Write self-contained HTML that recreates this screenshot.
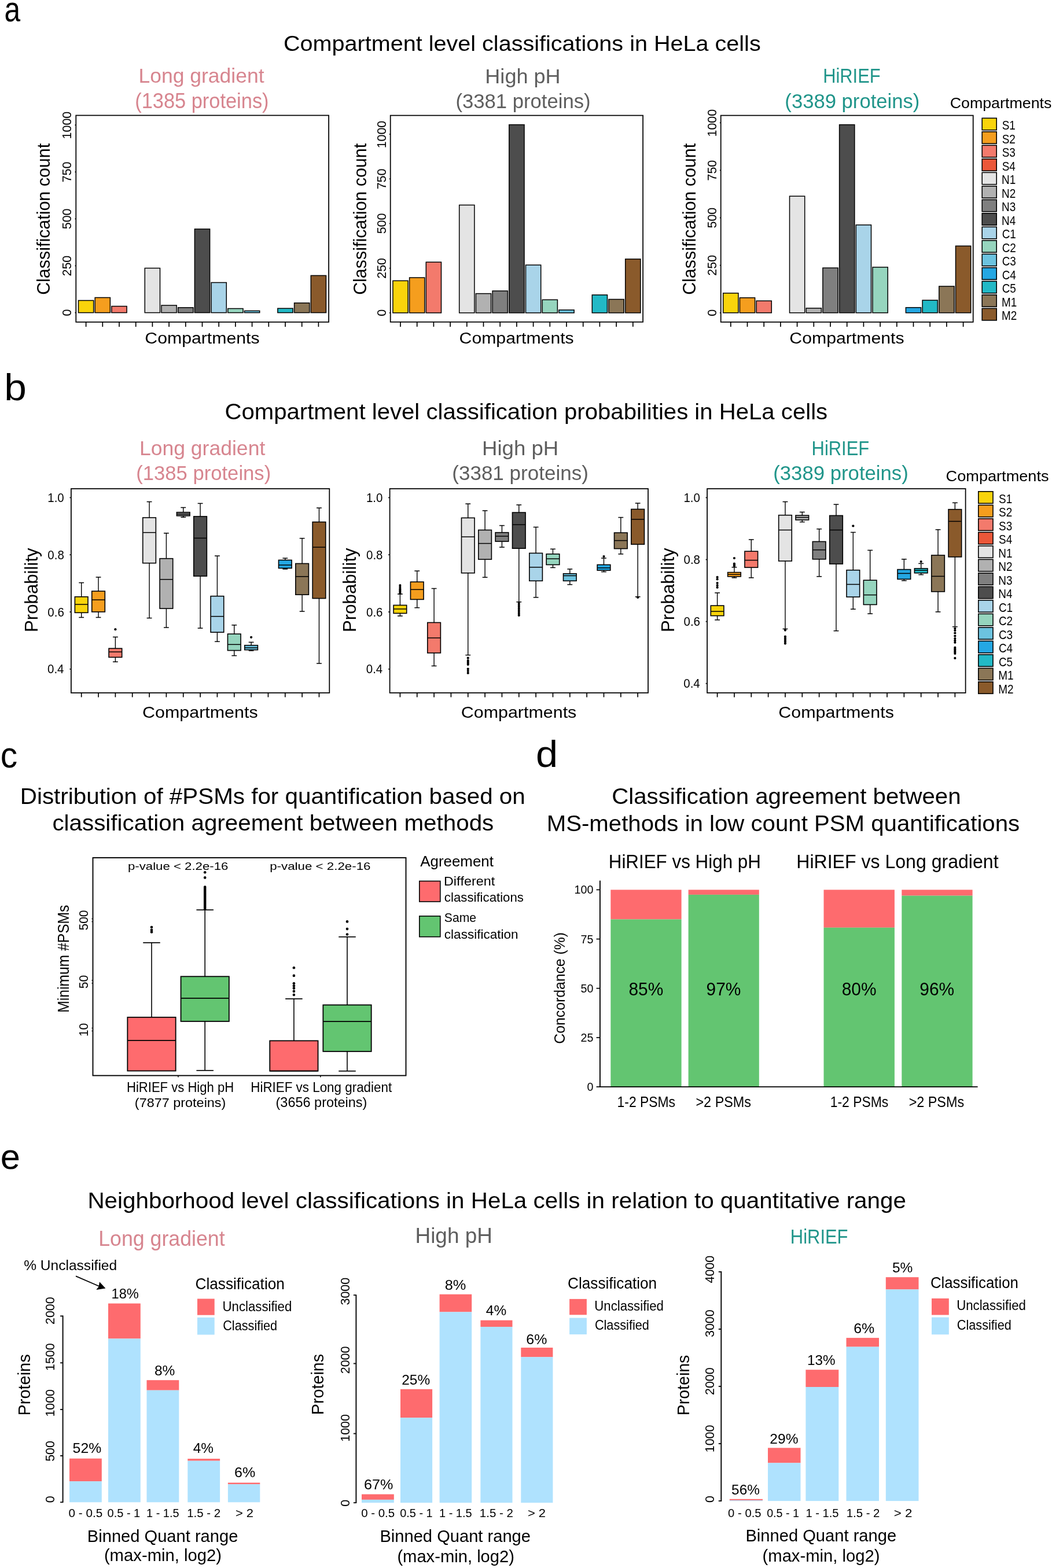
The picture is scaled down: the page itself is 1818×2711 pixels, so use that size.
<!DOCTYPE html>
<html><head><meta charset="utf-8"><title>Figure</title>
<style>html,body{margin:0;padding:0;background:#fff;} svg{display:block;} text{font-kerning:none;}</style>
</head><body>
<svg width="1818" height="2711" viewBox="0 0 1818 2711" font-family="'Liberation Sans', Arial, sans-serif" style="font-kerning:none">
<rect width="1818" height="2711" fill="#fff"/>
<text transform="translate(7.59,37.3) scale(0.8072,1)" font-size="61.5" fill="#000">a</text>
<text transform="translate(7.23,692) scale(1.0608,1)" font-size="65.4" fill="#000">b</text>
<text transform="translate(0.8,1326.8) scale(0.9471,1)" font-size="62.2" fill="#000">c</text>
<text transform="translate(926.12,1326.1) scale(1.0472,1)" font-size="65.4" fill="#000">d</text>
<text transform="translate(0.69,2021.4) scale(0.9915,1)" font-size="61.9" fill="#000">e</text>
<text transform="translate(489.99,87.7) scale(1.0472,1)" font-size="37.8" fill="#000">Compartment level classifications in HeLa cells</text>
<text transform="translate(239.49,143.4) scale(0.9859,1)" font-size="36" fill="#D7858F">Long gradient</text>
<text transform="translate(233.17,187) scale(0.9559,1)" font-size="36" fill="#D7858F">(1385 proteins)</text>
<text transform="translate(838.34,144) scale(1.0018,1)" font-size="36" fill="#5E5E5E">High pH</text>
<text transform="translate(787.45,187.3) scale(0.9631,1)" font-size="36" fill="#5E5E5E">(3381 proteins)</text>
<text transform="translate(1422.17,142.9) scale(0.8575,1)" font-size="36" fill="#20958A">HiRIEF</text>
<text transform="translate(1356.35,187) scale(0.9627,1)" font-size="36" fill="#20958A">(3389 proteins)</text>
<rect x="135.5" y="519.5" width="26.2" height="21.1" fill="#F9D40B" stroke="#000" stroke-width="1.5"/>
<rect x="164.2" y="514.5" width="26.2" height="26.1" fill="#F59E1E" stroke="#000" stroke-width="1.5"/>
<rect x="192.9" y="529.5" width="26.2" height="11.1" fill="#F37A6C" stroke="#000" stroke-width="1.5"/>
<rect x="250.3" y="463.6" width="26.2" height="77" fill="#E4E4E4" stroke="#000" stroke-width="1.5"/>
<rect x="279" y="527.9" width="26.2" height="12.7" fill="#B1B1B1" stroke="#000" stroke-width="1.5"/>
<rect x="307.7" y="531.8" width="26.2" height="8.8" fill="#7F7F7F" stroke="#000" stroke-width="1.5"/>
<rect x="336.4" y="396" width="26.2" height="144.6" fill="#4D4D4D" stroke="#000" stroke-width="1.5"/>
<rect x="365.1" y="488.5" width="26.2" height="52.1" fill="#A9D4E9" stroke="#000" stroke-width="1.5"/>
<rect x="393.8" y="533.5" width="26.2" height="7.1" fill="#96D5BE" stroke="#000" stroke-width="1.5"/>
<rect x="422.5" y="537.4" width="26.2" height="3.2" fill="#6CC3DF" stroke="#000" stroke-width="1.5"/>
<rect x="479.9" y="533.2" width="26.2" height="7.4" fill="#22B9C6" stroke="#000" stroke-width="1.5"/>
<rect x="508.6" y="523.8" width="26.2" height="16.8" fill="#8B7657" stroke="#000" stroke-width="1.5"/>
<rect x="537.3" y="476.4" width="26.2" height="64.2" fill="#8A5A2B" stroke="#000" stroke-width="1.5"/>
<rect x="131.3" y="199.5" width="436.8" height="357.3" fill="none" stroke="#000" stroke-width="1.75"/>
<line x1="148.6" y1="556.8" x2="148.6" y2="565" stroke="#000" stroke-width="1.7"/>
<line x1="177.3" y1="556.8" x2="177.3" y2="565" stroke="#000" stroke-width="1.7"/>
<line x1="206" y1="556.8" x2="206" y2="565" stroke="#000" stroke-width="1.7"/>
<line x1="234.7" y1="556.8" x2="234.7" y2="565" stroke="#000" stroke-width="1.7"/>
<line x1="263.4" y1="556.8" x2="263.4" y2="565" stroke="#000" stroke-width="1.7"/>
<line x1="292.1" y1="556.8" x2="292.1" y2="565" stroke="#000" stroke-width="1.7"/>
<line x1="320.8" y1="556.8" x2="320.8" y2="565" stroke="#000" stroke-width="1.7"/>
<line x1="349.5" y1="556.8" x2="349.5" y2="565" stroke="#000" stroke-width="1.7"/>
<line x1="378.2" y1="556.8" x2="378.2" y2="565" stroke="#000" stroke-width="1.7"/>
<line x1="406.9" y1="556.8" x2="406.9" y2="565" stroke="#000" stroke-width="1.7"/>
<line x1="435.6" y1="556.8" x2="435.6" y2="565" stroke="#000" stroke-width="1.7"/>
<line x1="464.3" y1="556.8" x2="464.3" y2="565" stroke="#000" stroke-width="1.7"/>
<line x1="493" y1="556.8" x2="493" y2="565" stroke="#000" stroke-width="1.7"/>
<line x1="521.7" y1="556.8" x2="521.7" y2="565" stroke="#000" stroke-width="1.7"/>
<line x1="550.4" y1="556.8" x2="550.4" y2="565" stroke="#000" stroke-width="1.7"/>
<line x1="129.5" y1="540.6" x2="131.3" y2="540.6" stroke="#000" stroke-width="1.6"/>
<text transform="translate(123.1,546.55) rotate(-90) scale(0.9300,1)" font-size="23" fill="#000">0</text>
<line x1="129.5" y1="459.5" x2="131.3" y2="459.5" stroke="#000" stroke-width="1.6"/>
<text transform="translate(123.1,477.46) rotate(-90) scale(0.9300,1)" font-size="23" fill="#000">250</text>
<line x1="129.5" y1="378.4" x2="131.3" y2="378.4" stroke="#000" stroke-width="1.6"/>
<text transform="translate(123.1,396.25) rotate(-90) scale(0.9300,1)" font-size="23" fill="#000">500</text>
<line x1="129.5" y1="297.3" x2="131.3" y2="297.3" stroke="#000" stroke-width="1.6"/>
<text transform="translate(123.1,315.27) rotate(-90) scale(0.9300,1)" font-size="23" fill="#000">750</text>
<line x1="129.5" y1="216.2" x2="131.3" y2="216.2" stroke="#000" stroke-width="1.6"/>
<text transform="translate(123.1,240.39) rotate(-90) scale(0.9300,1)" font-size="23" fill="#000">1000</text>
<text transform="translate(85.8,509.84) rotate(-90) scale(0.9750,1)" font-size="31.2" fill="#000">Classification count</text>
<text transform="translate(250.36,593.9) scale(1.0719,1)" font-size="28.2" fill="#000">Compartments</text>
<rect x="678.9" y="485.4" width="26.2" height="55.5" fill="#F9D40B" stroke="#000" stroke-width="1.5"/>
<rect x="707.6" y="480" width="26.2" height="60.9" fill="#F59E1E" stroke="#000" stroke-width="1.5"/>
<rect x="736.3" y="453.2" width="26.2" height="87.7" fill="#F37A6C" stroke="#000" stroke-width="1.5"/>
<rect x="793.7" y="354.5" width="26.2" height="186.4" fill="#E4E4E4" stroke="#000" stroke-width="1.5"/>
<rect x="822.4" y="507.6" width="26.2" height="33.3" fill="#B1B1B1" stroke="#000" stroke-width="1.5"/>
<rect x="851.1" y="503" width="26.2" height="37.9" fill="#7F7F7F" stroke="#000" stroke-width="1.5"/>
<rect x="879.8" y="215.6" width="26.2" height="325.3" fill="#4D4D4D" stroke="#000" stroke-width="1.5"/>
<rect x="908.5" y="458.2" width="26.2" height="82.7" fill="#A9D4E9" stroke="#000" stroke-width="1.5"/>
<rect x="937.2" y="518.3" width="26.2" height="22.6" fill="#96D5BE" stroke="#000" stroke-width="1.5"/>
<rect x="965.9" y="535.9" width="26.2" height="5" fill="#6CC3DF" stroke="#000" stroke-width="1.5"/>
<rect x="1023.3" y="509.9" width="26.2" height="31" fill="#22B9C6" stroke="#000" stroke-width="1.5"/>
<rect x="1052" y="517.5" width="26.2" height="23.4" fill="#8B7657" stroke="#000" stroke-width="1.5"/>
<rect x="1080.7" y="447.9" width="26.2" height="93" fill="#8A5A2B" stroke="#000" stroke-width="1.5"/>
<rect x="674.7" y="199.6" width="436.4" height="357.1" fill="none" stroke="#000" stroke-width="1.75"/>
<line x1="692" y1="556.7" x2="692" y2="564.9" stroke="#000" stroke-width="1.7"/>
<line x1="720.7" y1="556.7" x2="720.7" y2="564.9" stroke="#000" stroke-width="1.7"/>
<line x1="749.4" y1="556.7" x2="749.4" y2="564.9" stroke="#000" stroke-width="1.7"/>
<line x1="778.1" y1="556.7" x2="778.1" y2="564.9" stroke="#000" stroke-width="1.7"/>
<line x1="806.8" y1="556.7" x2="806.8" y2="564.9" stroke="#000" stroke-width="1.7"/>
<line x1="835.5" y1="556.7" x2="835.5" y2="564.9" stroke="#000" stroke-width="1.7"/>
<line x1="864.2" y1="556.7" x2="864.2" y2="564.9" stroke="#000" stroke-width="1.7"/>
<line x1="892.9" y1="556.7" x2="892.9" y2="564.9" stroke="#000" stroke-width="1.7"/>
<line x1="921.6" y1="556.7" x2="921.6" y2="564.9" stroke="#000" stroke-width="1.7"/>
<line x1="950.3" y1="556.7" x2="950.3" y2="564.9" stroke="#000" stroke-width="1.7"/>
<line x1="979" y1="556.7" x2="979" y2="564.9" stroke="#000" stroke-width="1.7"/>
<line x1="1007.7" y1="556.7" x2="1007.7" y2="564.9" stroke="#000" stroke-width="1.7"/>
<line x1="1036.4" y1="556.7" x2="1036.4" y2="564.9" stroke="#000" stroke-width="1.7"/>
<line x1="1065.1" y1="556.7" x2="1065.1" y2="564.9" stroke="#000" stroke-width="1.7"/>
<line x1="1093.8" y1="556.7" x2="1093.8" y2="564.9" stroke="#000" stroke-width="1.7"/>
<line x1="672.9" y1="540.9" x2="674.7" y2="540.9" stroke="#000" stroke-width="1.6"/>
<text transform="translate(666.5,546.85) rotate(-90) scale(0.9300,1)" font-size="23" fill="#000">0</text>
<line x1="672.9" y1="463.7" x2="674.7" y2="463.7" stroke="#000" stroke-width="1.6"/>
<text transform="translate(666.5,481.66) rotate(-90) scale(0.9300,1)" font-size="23" fill="#000">250</text>
<line x1="672.9" y1="386.5" x2="674.7" y2="386.5" stroke="#000" stroke-width="1.6"/>
<text transform="translate(666.5,404.35) rotate(-90) scale(0.9300,1)" font-size="23" fill="#000">500</text>
<line x1="672.9" y1="309.3" x2="674.7" y2="309.3" stroke="#000" stroke-width="1.6"/>
<text transform="translate(666.5,327.27) rotate(-90) scale(0.9300,1)" font-size="23" fill="#000">750</text>
<line x1="672.9" y1="232.1" x2="674.7" y2="232.1" stroke="#000" stroke-width="1.6"/>
<text transform="translate(666.5,256.29) rotate(-90) scale(0.9300,1)" font-size="23" fill="#000">1000</text>
<text transform="translate(633.1,509.84) rotate(-90) scale(0.9750,1)" font-size="31.2" fill="#000">Classification count</text>
<text transform="translate(793.56,593.9) scale(1.0719,1)" font-size="28.2" fill="#000">Compartments</text>
<rect x="1249.7" y="506.8" width="26.2" height="34" fill="#F9D40B" stroke="#000" stroke-width="1.5"/>
<rect x="1278.4" y="514.8" width="26.2" height="26" fill="#F59E1E" stroke="#000" stroke-width="1.5"/>
<rect x="1307.1" y="520.2" width="26.2" height="20.6" fill="#F37A6C" stroke="#000" stroke-width="1.5"/>
<rect x="1364.5" y="339.2" width="26.2" height="201.6" fill="#E4E4E4" stroke="#000" stroke-width="1.5"/>
<rect x="1393.2" y="532.8" width="26.2" height="8" fill="#B1B1B1" stroke="#000" stroke-width="1.5"/>
<rect x="1421.9" y="463.2" width="26.2" height="77.6" fill="#7F7F7F" stroke="#000" stroke-width="1.5"/>
<rect x="1450.6" y="215.6" width="26.2" height="325.2" fill="#4D4D4D" stroke="#000" stroke-width="1.5"/>
<rect x="1479.3" y="388.9" width="26.2" height="151.9" fill="#A9D4E9" stroke="#000" stroke-width="1.5"/>
<rect x="1508" y="462" width="26.2" height="78.8" fill="#96D5BE" stroke="#000" stroke-width="1.5"/>
<rect x="1565.4" y="531.7" width="26.2" height="9.1" fill="#24A7E3" stroke="#000" stroke-width="1.5"/>
<rect x="1594.1" y="519.1" width="26.2" height="21.7" fill="#22B9C6" stroke="#000" stroke-width="1.5"/>
<rect x="1622.8" y="495" width="26.2" height="45.8" fill="#8B7657" stroke="#000" stroke-width="1.5"/>
<rect x="1651.5" y="425.3" width="26.2" height="115.5" fill="#8A5A2B" stroke="#000" stroke-width="1.5"/>
<rect x="1245.7" y="199.6" width="436" height="357.2" fill="none" stroke="#000" stroke-width="1.75"/>
<line x1="1262.8" y1="556.8" x2="1262.8" y2="565" stroke="#000" stroke-width="1.7"/>
<line x1="1291.5" y1="556.8" x2="1291.5" y2="565" stroke="#000" stroke-width="1.7"/>
<line x1="1320.2" y1="556.8" x2="1320.2" y2="565" stroke="#000" stroke-width="1.7"/>
<line x1="1348.9" y1="556.8" x2="1348.9" y2="565" stroke="#000" stroke-width="1.7"/>
<line x1="1377.6" y1="556.8" x2="1377.6" y2="565" stroke="#000" stroke-width="1.7"/>
<line x1="1406.3" y1="556.8" x2="1406.3" y2="565" stroke="#000" stroke-width="1.7"/>
<line x1="1435" y1="556.8" x2="1435" y2="565" stroke="#000" stroke-width="1.7"/>
<line x1="1463.7" y1="556.8" x2="1463.7" y2="565" stroke="#000" stroke-width="1.7"/>
<line x1="1492.4" y1="556.8" x2="1492.4" y2="565" stroke="#000" stroke-width="1.7"/>
<line x1="1521.1" y1="556.8" x2="1521.1" y2="565" stroke="#000" stroke-width="1.7"/>
<line x1="1549.8" y1="556.8" x2="1549.8" y2="565" stroke="#000" stroke-width="1.7"/>
<line x1="1578.5" y1="556.8" x2="1578.5" y2="565" stroke="#000" stroke-width="1.7"/>
<line x1="1607.2" y1="556.8" x2="1607.2" y2="565" stroke="#000" stroke-width="1.7"/>
<line x1="1635.9" y1="556.8" x2="1635.9" y2="565" stroke="#000" stroke-width="1.7"/>
<line x1="1664.6" y1="556.8" x2="1664.6" y2="565" stroke="#000" stroke-width="1.7"/>
<line x1="1243.9" y1="540.8" x2="1245.7" y2="540.8" stroke="#000" stroke-width="1.6"/>
<text transform="translate(1237.5,546.75) rotate(-90) scale(0.9300,1)" font-size="23" fill="#000">0</text>
<line x1="1243.9" y1="458.67" x2="1245.7" y2="458.67" stroke="#000" stroke-width="1.6"/>
<text transform="translate(1237.5,476.64) rotate(-90) scale(0.9300,1)" font-size="23" fill="#000">250</text>
<line x1="1243.9" y1="376.55" x2="1245.7" y2="376.55" stroke="#000" stroke-width="1.6"/>
<text transform="translate(1237.5,394.4) rotate(-90) scale(0.9300,1)" font-size="23" fill="#000">500</text>
<line x1="1243.9" y1="294.42" x2="1245.7" y2="294.42" stroke="#000" stroke-width="1.6"/>
<text transform="translate(1237.5,312.4) rotate(-90) scale(0.9300,1)" font-size="23" fill="#000">750</text>
<line x1="1243.9" y1="212.3" x2="1245.7" y2="212.3" stroke="#000" stroke-width="1.6"/>
<text transform="translate(1237.5,236.49) rotate(-90) scale(0.9300,1)" font-size="23" fill="#000">1000</text>
<text transform="translate(1202.1,509.84) rotate(-90) scale(0.9750,1)" font-size="31.2" fill="#000">Classification count</text>
<text transform="translate(1364.36,593.9) scale(1.0719,1)" font-size="28.2" fill="#000">Compartments</text>
<text transform="translate(1641.64,187.3) scale(1.0393,1)" font-size="25.8" fill="#000">Compartments</text>
<rect x="1697.2" y="204.3" width="25" height="20.5" fill="#F9D40B" stroke="#000" stroke-width="1.6"/>
<text transform="translate(1731.74,224.2) scale(0.8600,1)" font-size="22" fill="#000">S1</text>
<rect x="1697.2" y="227.8" width="25" height="20.5" fill="#F59E1E" stroke="#000" stroke-width="1.6"/>
<text transform="translate(1731.74,247.7) scale(0.8600,1)" font-size="22" fill="#000">S2</text>
<rect x="1697.2" y="251.3" width="25" height="20.5" fill="#F37A6C" stroke="#000" stroke-width="1.6"/>
<text transform="translate(1731.74,271.2) scale(0.8600,1)" font-size="22" fill="#000">S3</text>
<rect x="1697.2" y="274.8" width="25" height="20.5" fill="#EB5739" stroke="#000" stroke-width="1.6"/>
<text transform="translate(1731.74,294.7) scale(0.8600,1)" font-size="22" fill="#000">S4</text>
<rect x="1697.2" y="298.3" width="25" height="20.5" fill="#E4E4E4" stroke="#000" stroke-width="1.6"/>
<text transform="translate(1731.05,318.2) scale(0.8600,1)" font-size="22" fill="#000">N1</text>
<rect x="1697.2" y="321.8" width="25" height="20.5" fill="#B1B1B1" stroke="#000" stroke-width="1.6"/>
<text transform="translate(1731.05,341.7) scale(0.8600,1)" font-size="22" fill="#000">N2</text>
<rect x="1697.2" y="345.3" width="25" height="20.5" fill="#7F7F7F" stroke="#000" stroke-width="1.6"/>
<text transform="translate(1731.05,365.2) scale(0.8600,1)" font-size="22" fill="#000">N3</text>
<rect x="1697.2" y="368.8" width="25" height="20.5" fill="#4D4D4D" stroke="#000" stroke-width="1.6"/>
<text transform="translate(1731.05,388.7) scale(0.8600,1)" font-size="22" fill="#000">N4</text>
<rect x="1697.2" y="392.3" width="25" height="20.5" fill="#A9D4E9" stroke="#000" stroke-width="1.6"/>
<text transform="translate(1731.64,412.2) scale(0.8600,1)" font-size="22" fill="#000">C1</text>
<rect x="1697.2" y="415.8" width="25" height="20.5" fill="#96D5BE" stroke="#000" stroke-width="1.6"/>
<text transform="translate(1731.64,435.7) scale(0.8600,1)" font-size="22" fill="#000">C2</text>
<rect x="1697.2" y="439.3" width="25" height="20.5" fill="#6CC3DF" stroke="#000" stroke-width="1.6"/>
<text transform="translate(1731.64,459.2) scale(0.8600,1)" font-size="22" fill="#000">C3</text>
<rect x="1697.2" y="462.8" width="25" height="20.5" fill="#24A7E3" stroke="#000" stroke-width="1.6"/>
<text transform="translate(1731.64,482.7) scale(0.8600,1)" font-size="22" fill="#000">C4</text>
<rect x="1697.2" y="486.3" width="25" height="20.5" fill="#22B9C6" stroke="#000" stroke-width="1.6"/>
<text transform="translate(1731.64,506.2) scale(0.8600,1)" font-size="22" fill="#000">C5</text>
<rect x="1697.2" y="509.8" width="25" height="20.5" fill="#8B7657" stroke="#000" stroke-width="1.6"/>
<text transform="translate(1731.05,529.7) scale(0.8600,1)" font-size="22" fill="#000">M1</text>
<rect x="1697.2" y="533.3" width="25" height="20.5" fill="#8A5A2B" stroke="#000" stroke-width="1.6"/>
<text transform="translate(1731.05,553.2) scale(0.8600,1)" font-size="22" fill="#000">M2</text>
<text transform="translate(388.46,724.9) scale(1.0562,1)" font-size="38" fill="#000">Compartment level classification probabilities in HeLa cells</text>
<text transform="translate(240.88,786.5) scale(0.9877,1)" font-size="36" fill="#D7858F">Long gradient</text>
<text transform="translate(235.15,830.2) scale(0.9627,1)" font-size="36" fill="#D7858F">(1385 proteins)</text>
<text transform="translate(833,787) scale(1.0171,1)" font-size="36" fill="#5E5E5E">High pH</text>
<text transform="translate(781.23,829.8) scale(0.9740,1)" font-size="36" fill="#5E5E5E">(3381 proteins)</text>
<text transform="translate(1402.56,786.7) scale(0.8593,1)" font-size="36" fill="#20958A">HiRIEF</text>
<text transform="translate(1336.25,829.9) scale(0.9648,1)" font-size="36" fill="#20958A">(3389 proteins)</text>
<line x1="140.7" y1="1007.5" x2="140.7" y2="1031.8" stroke="#000" stroke-width="1.4"/>
<line x1="140.7" y1="1059.3" x2="140.7" y2="1067.5" stroke="#000" stroke-width="1.4"/>
<line x1="136.3" y1="1007.5" x2="145.1" y2="1007.5" stroke="#000" stroke-width="1.5"/>
<line x1="136.3" y1="1067.5" x2="145.1" y2="1067.5" stroke="#000" stroke-width="1.5"/>
<rect x="129.4" y="1031.8" width="22.6" height="27.5" fill="#F9D40B" stroke="#000" stroke-width="1.6"/>
<line x1="129.4" y1="1045" x2="152" y2="1045" stroke="#000" stroke-width="1.5"/>
<line x1="170.04" y1="997.9" x2="170.04" y2="1022.1" stroke="#000" stroke-width="1.4"/>
<line x1="170.04" y1="1057.9" x2="170.04" y2="1067.5" stroke="#000" stroke-width="1.4"/>
<line x1="165.64" y1="997.9" x2="174.44" y2="997.9" stroke="#000" stroke-width="1.5"/>
<line x1="165.64" y1="1067.5" x2="174.44" y2="1067.5" stroke="#000" stroke-width="1.5"/>
<rect x="158.74" y="1022.1" width="22.6" height="35.8" fill="#F59E1E" stroke="#000" stroke-width="1.6"/>
<line x1="158.74" y1="1037.1" x2="181.34" y2="1037.1" stroke="#000" stroke-width="1.5"/>
<line x1="199.38" y1="1101.4" x2="199.38" y2="1121.1" stroke="#000" stroke-width="1.4"/>
<line x1="199.38" y1="1136.4" x2="199.38" y2="1144.3" stroke="#000" stroke-width="1.4"/>
<line x1="194.98" y1="1101.4" x2="203.78" y2="1101.4" stroke="#000" stroke-width="1.5"/>
<line x1="194.98" y1="1144.3" x2="203.78" y2="1144.3" stroke="#000" stroke-width="1.5"/>
<rect x="188.08" y="1121.1" width="22.6" height="15.3" fill="#F37A6C" stroke="#000" stroke-width="1.6"/>
<line x1="188.08" y1="1127.1" x2="210.68" y2="1127.1" stroke="#000" stroke-width="1.5"/>
<circle cx="199.38" cy="1088.2" r="2.1" fill="#000"/>
<line x1="258.06" y1="867.5" x2="258.06" y2="895" stroke="#000" stroke-width="1.4"/>
<line x1="258.06" y1="973.6" x2="258.06" y2="1068.6" stroke="#000" stroke-width="1.4"/>
<line x1="253.66" y1="867.5" x2="262.46" y2="867.5" stroke="#000" stroke-width="1.5"/>
<line x1="253.66" y1="1068.6" x2="262.46" y2="1068.6" stroke="#000" stroke-width="1.5"/>
<rect x="246.76" y="895" width="22.6" height="78.6" fill="#E4E4E4" stroke="#000" stroke-width="1.6"/>
<line x1="246.76" y1="920.7" x2="269.36" y2="920.7" stroke="#000" stroke-width="1.5"/>
<line x1="287.4" y1="921.8" x2="287.4" y2="965.7" stroke="#000" stroke-width="1.4"/>
<line x1="287.4" y1="1052.1" x2="287.4" y2="1085" stroke="#000" stroke-width="1.4"/>
<line x1="283" y1="921.8" x2="291.8" y2="921.8" stroke="#000" stroke-width="1.5"/>
<line x1="283" y1="1085" x2="291.8" y2="1085" stroke="#000" stroke-width="1.5"/>
<rect x="276.1" y="965.7" width="22.6" height="86.4" fill="#B1B1B1" stroke="#000" stroke-width="1.6"/>
<line x1="276.1" y1="1001.8" x2="298.7" y2="1001.8" stroke="#000" stroke-width="1.5"/>
<line x1="316.74" y1="877.5" x2="316.74" y2="885.7" stroke="#000" stroke-width="1.4"/>
<line x1="316.74" y1="891.8" x2="316.74" y2="894.3" stroke="#000" stroke-width="1.4"/>
<line x1="312.34" y1="877.5" x2="321.14" y2="877.5" stroke="#000" stroke-width="1.5"/>
<line x1="312.34" y1="894.3" x2="321.14" y2="894.3" stroke="#000" stroke-width="1.5"/>
<rect x="305.44" y="885.7" width="22.6" height="6.1" fill="#7F7F7F" stroke="#000" stroke-width="1.6"/>
<line x1="305.44" y1="888.9" x2="328.04" y2="888.9" stroke="#000" stroke-width="1.5"/>
<line x1="346.08" y1="870.4" x2="346.08" y2="892.9" stroke="#000" stroke-width="1.4"/>
<line x1="346.08" y1="996.1" x2="346.08" y2="1086.1" stroke="#000" stroke-width="1.4"/>
<line x1="341.68" y1="870.4" x2="350.48" y2="870.4" stroke="#000" stroke-width="1.5"/>
<line x1="341.68" y1="1086.1" x2="350.48" y2="1086.1" stroke="#000" stroke-width="1.5"/>
<rect x="334.78" y="892.9" width="22.6" height="103.2" fill="#4D4D4D" stroke="#000" stroke-width="1.6"/>
<line x1="334.78" y1="930.4" x2="357.38" y2="930.4" stroke="#000" stroke-width="1.5"/>
<line x1="375.42" y1="961.1" x2="375.42" y2="1030.7" stroke="#000" stroke-width="1.4"/>
<line x1="375.42" y1="1093.2" x2="375.42" y2="1109.3" stroke="#000" stroke-width="1.4"/>
<line x1="371.02" y1="961.1" x2="379.82" y2="961.1" stroke="#000" stroke-width="1.5"/>
<line x1="371.02" y1="1109.3" x2="379.82" y2="1109.3" stroke="#000" stroke-width="1.5"/>
<rect x="364.12" y="1030.7" width="22.6" height="62.5" fill="#A9D4E9" stroke="#000" stroke-width="1.6"/>
<line x1="364.12" y1="1065.7" x2="386.72" y2="1065.7" stroke="#000" stroke-width="1.5"/>
<line x1="404.76" y1="1080.7" x2="404.76" y2="1096.1" stroke="#000" stroke-width="1.4"/>
<line x1="404.76" y1="1124.6" x2="404.76" y2="1133.6" stroke="#000" stroke-width="1.4"/>
<line x1="400.36" y1="1080.7" x2="409.16" y2="1080.7" stroke="#000" stroke-width="1.5"/>
<line x1="400.36" y1="1133.6" x2="409.16" y2="1133.6" stroke="#000" stroke-width="1.5"/>
<rect x="393.46" y="1096.1" width="22.6" height="28.5" fill="#96D5BE" stroke="#000" stroke-width="1.6"/>
<line x1="393.46" y1="1114.3" x2="416.06" y2="1114.3" stroke="#000" stroke-width="1.5"/>
<line x1="434.1" y1="1110.4" x2="434.1" y2="1115.7" stroke="#000" stroke-width="1.4"/>
<line x1="434.1" y1="1123.6" x2="434.1" y2="1125" stroke="#000" stroke-width="1.4"/>
<line x1="429.7" y1="1110.4" x2="438.5" y2="1110.4" stroke="#000" stroke-width="1.5"/>
<line x1="429.7" y1="1125" x2="438.5" y2="1125" stroke="#000" stroke-width="1.5"/>
<rect x="422.8" y="1115.7" width="22.6" height="7.9" fill="#6CC3DF" stroke="#000" stroke-width="1.6"/>
<line x1="422.8" y1="1120" x2="445.4" y2="1120" stroke="#000" stroke-width="1.5"/>
<circle cx="434.1" cy="1101.8" r="2.1" fill="#000"/>
<line x1="492.78" y1="965.1" x2="492.78" y2="968.4" stroke="#000" stroke-width="1.4"/>
<line x1="492.78" y1="982.4" x2="492.78" y2="983.9" stroke="#000" stroke-width="1.4"/>
<line x1="488.38" y1="965.1" x2="497.18" y2="965.1" stroke="#000" stroke-width="1.5"/>
<line x1="488.38" y1="983.9" x2="497.18" y2="983.9" stroke="#000" stroke-width="1.5"/>
<rect x="481.48" y="968.4" width="22.6" height="14" fill="#24A7E3" stroke="#000" stroke-width="1.6"/>
<line x1="481.48" y1="976.9" x2="504.08" y2="976.9" stroke="#000" stroke-width="1.5"/>
<line x1="522.12" y1="930.7" x2="522.12" y2="974.4" stroke="#000" stroke-width="1.4"/>
<line x1="522.12" y1="1028.2" x2="522.12" y2="1057.1" stroke="#000" stroke-width="1.4"/>
<line x1="517.72" y1="930.7" x2="526.52" y2="930.7" stroke="#000" stroke-width="1.5"/>
<line x1="517.72" y1="1057.1" x2="526.52" y2="1057.1" stroke="#000" stroke-width="1.5"/>
<rect x="510.82" y="974.4" width="22.6" height="53.8" fill="#8B7657" stroke="#000" stroke-width="1.6"/>
<line x1="510.82" y1="996.8" x2="533.42" y2="996.8" stroke="#000" stroke-width="1.5"/>
<line x1="551.46" y1="878.2" x2="551.46" y2="902.5" stroke="#000" stroke-width="1.4"/>
<line x1="551.46" y1="1034.6" x2="551.46" y2="1147.1" stroke="#000" stroke-width="1.4"/>
<line x1="547.06" y1="878.2" x2="555.86" y2="878.2" stroke="#000" stroke-width="1.5"/>
<line x1="547.06" y1="1147.1" x2="555.86" y2="1147.1" stroke="#000" stroke-width="1.5"/>
<rect x="540.16" y="902.5" width="22.6" height="132.1" fill="#8A5A2B" stroke="#000" stroke-width="1.6"/>
<line x1="540.16" y1="946.1" x2="562.76" y2="946.1" stroke="#000" stroke-width="1.5"/>
<rect x="122.9" y="845" width="446.4" height="352.9" fill="none" stroke="#000" stroke-width="1.75"/>
<line x1="140.7" y1="1197.9" x2="140.7" y2="1205.4" stroke="#000" stroke-width="1.7"/>
<line x1="170.04" y1="1197.9" x2="170.04" y2="1205.4" stroke="#000" stroke-width="1.7"/>
<line x1="199.38" y1="1197.9" x2="199.38" y2="1205.4" stroke="#000" stroke-width="1.7"/>
<line x1="228.72" y1="1197.9" x2="228.72" y2="1205.4" stroke="#000" stroke-width="1.7"/>
<line x1="258.06" y1="1197.9" x2="258.06" y2="1205.4" stroke="#000" stroke-width="1.7"/>
<line x1="287.4" y1="1197.9" x2="287.4" y2="1205.4" stroke="#000" stroke-width="1.7"/>
<line x1="316.74" y1="1197.9" x2="316.74" y2="1205.4" stroke="#000" stroke-width="1.7"/>
<line x1="346.08" y1="1197.9" x2="346.08" y2="1205.4" stroke="#000" stroke-width="1.7"/>
<line x1="375.42" y1="1197.9" x2="375.42" y2="1205.4" stroke="#000" stroke-width="1.7"/>
<line x1="404.76" y1="1197.9" x2="404.76" y2="1205.4" stroke="#000" stroke-width="1.7"/>
<line x1="434.1" y1="1197.9" x2="434.1" y2="1205.4" stroke="#000" stroke-width="1.7"/>
<line x1="463.44" y1="1197.9" x2="463.44" y2="1205.4" stroke="#000" stroke-width="1.7"/>
<line x1="492.78" y1="1197.9" x2="492.78" y2="1205.4" stroke="#000" stroke-width="1.7"/>
<line x1="522.12" y1="1197.9" x2="522.12" y2="1205.4" stroke="#000" stroke-width="1.7"/>
<line x1="551.46" y1="1197.9" x2="551.46" y2="1205.4" stroke="#000" stroke-width="1.7"/>
<line x1="120.4" y1="860.4" x2="122.9" y2="860.4" stroke="#000" stroke-width="1.6"/>
<text transform="translate(82.26,867.9) scale(0.9300,1)" font-size="22" fill="#000">1.0</text>
<line x1="120.4" y1="959.2" x2="122.9" y2="959.2" stroke="#000" stroke-width="1.6"/>
<text transform="translate(82.35,966.7) scale(0.9300,1)" font-size="22" fill="#000">0.8</text>
<line x1="120.4" y1="1058" x2="122.9" y2="1058" stroke="#000" stroke-width="1.6"/>
<text transform="translate(82.36,1065.5) scale(0.9300,1)" font-size="22" fill="#000">0.6</text>
<line x1="120.4" y1="1156.8" x2="122.9" y2="1156.8" stroke="#000" stroke-width="1.6"/>
<text transform="translate(82.06,1164.3) scale(0.9300,1)" font-size="22" fill="#000">0.4</text>
<text transform="translate(65,1093.06) rotate(-90) scale(1.0207,1)" font-size="30.6" fill="#000">Probability</text>
<text transform="translate(246.05,1240.9) scale(1.0951,1)" font-size="27.8" fill="#000">Compartments</text>
<line x1="691.4" y1="1027.1" x2="691.4" y2="1046.4" stroke="#000" stroke-width="1.4"/>
<line x1="691.4" y1="1060.4" x2="691.4" y2="1065" stroke="#000" stroke-width="1.4"/>
<line x1="687" y1="1027.1" x2="695.8" y2="1027.1" stroke="#000" stroke-width="1.5"/>
<line x1="687" y1="1065" x2="695.8" y2="1065" stroke="#000" stroke-width="1.5"/>
<rect x="680.1" y="1046.4" width="22.6" height="14" fill="#F9D40B" stroke="#000" stroke-width="1.6"/>
<line x1="680.1" y1="1052.9" x2="702.7" y2="1052.9" stroke="#000" stroke-width="1.5"/>
<circle cx="691.4" cy="1012" r="2.1" fill="#000"/>
<circle cx="691.4" cy="1015" r="2.1" fill="#000"/>
<circle cx="691.4" cy="1018" r="2.1" fill="#000"/>
<circle cx="691.4" cy="1020" r="2.1" fill="#000"/>
<circle cx="691.4" cy="1022" r="2.1" fill="#000"/>
<circle cx="691.4" cy="1024" r="2.1" fill="#000"/>
<circle cx="691.4" cy="1026" r="2.1" fill="#000"/>
<line x1="720.74" y1="987.1" x2="720.74" y2="1006.1" stroke="#000" stroke-width="1.4"/>
<line x1="720.74" y1="1036.4" x2="720.74" y2="1050.7" stroke="#000" stroke-width="1.4"/>
<line x1="716.34" y1="987.1" x2="725.14" y2="987.1" stroke="#000" stroke-width="1.5"/>
<line x1="716.34" y1="1050.7" x2="725.14" y2="1050.7" stroke="#000" stroke-width="1.5"/>
<rect x="709.44" y="1006.1" width="22.6" height="30.3" fill="#F59E1E" stroke="#000" stroke-width="1.6"/>
<line x1="709.44" y1="1019.3" x2="732.04" y2="1019.3" stroke="#000" stroke-width="1.5"/>
<line x1="750.08" y1="1017.5" x2="750.08" y2="1076.4" stroke="#000" stroke-width="1.4"/>
<line x1="750.08" y1="1128.9" x2="750.08" y2="1151.4" stroke="#000" stroke-width="1.4"/>
<line x1="745.68" y1="1017.5" x2="754.48" y2="1017.5" stroke="#000" stroke-width="1.5"/>
<line x1="745.68" y1="1151.4" x2="754.48" y2="1151.4" stroke="#000" stroke-width="1.5"/>
<rect x="738.78" y="1076.4" width="22.6" height="52.5" fill="#F37A6C" stroke="#000" stroke-width="1.6"/>
<line x1="738.78" y1="1102.9" x2="761.38" y2="1102.9" stroke="#000" stroke-width="1.5"/>
<line x1="808.76" y1="871.1" x2="808.76" y2="895.4" stroke="#000" stroke-width="1.4"/>
<line x1="808.76" y1="990.7" x2="808.76" y2="1132.6" stroke="#000" stroke-width="1.4"/>
<line x1="804.36" y1="871.1" x2="813.16" y2="871.1" stroke="#000" stroke-width="1.5"/>
<line x1="804.36" y1="1132.6" x2="813.16" y2="1132.6" stroke="#000" stroke-width="1.5"/>
<rect x="797.46" y="895.4" width="22.6" height="95.3" fill="#E4E4E4" stroke="#000" stroke-width="1.6"/>
<line x1="797.46" y1="928.2" x2="820.06" y2="928.2" stroke="#000" stroke-width="1.5"/>
<circle cx="808.76" cy="1137.7" r="2.1" fill="#000"/>
<circle cx="808.76" cy="1142" r="2.1" fill="#000"/>
<circle cx="808.76" cy="1144.5" r="2.1" fill="#000"/>
<circle cx="808.76" cy="1147" r="2.1" fill="#000"/>
<circle cx="808.76" cy="1149" r="2.1" fill="#000"/>
<circle cx="808.76" cy="1156.6" r="2.1" fill="#000"/>
<circle cx="808.76" cy="1160" r="2.1" fill="#000"/>
<circle cx="808.76" cy="1163.7" r="2.1" fill="#000"/>
<line x1="838.1" y1="882.9" x2="838.1" y2="916.4" stroke="#000" stroke-width="1.4"/>
<line x1="838.1" y1="967.1" x2="838.1" y2="998.2" stroke="#000" stroke-width="1.4"/>
<line x1="833.7" y1="882.9" x2="842.5" y2="882.9" stroke="#000" stroke-width="1.5"/>
<line x1="833.7" y1="998.2" x2="842.5" y2="998.2" stroke="#000" stroke-width="1.5"/>
<rect x="826.8" y="916.4" width="22.6" height="50.7" fill="#B1B1B1" stroke="#000" stroke-width="1.6"/>
<line x1="826.8" y1="939.6" x2="849.4" y2="939.6" stroke="#000" stroke-width="1.5"/>
<line x1="867.44" y1="908.6" x2="867.44" y2="920.7" stroke="#000" stroke-width="1.4"/>
<line x1="867.44" y1="936.1" x2="867.44" y2="946.1" stroke="#000" stroke-width="1.4"/>
<line x1="863.04" y1="908.6" x2="871.84" y2="908.6" stroke="#000" stroke-width="1.5"/>
<line x1="863.04" y1="946.1" x2="871.84" y2="946.1" stroke="#000" stroke-width="1.5"/>
<rect x="856.14" y="920.7" width="22.6" height="15.4" fill="#7F7F7F" stroke="#000" stroke-width="1.6"/>
<line x1="856.14" y1="927.1" x2="878.74" y2="927.1" stroke="#000" stroke-width="1.5"/>
<line x1="896.78" y1="872.9" x2="896.78" y2="886.1" stroke="#000" stroke-width="1.4"/>
<line x1="896.78" y1="948.2" x2="896.78" y2="1040.7" stroke="#000" stroke-width="1.4"/>
<line x1="892.38" y1="872.9" x2="901.18" y2="872.9" stroke="#000" stroke-width="1.5"/>
<line x1="892.38" y1="1040.7" x2="901.18" y2="1040.7" stroke="#000" stroke-width="1.5"/>
<rect x="885.48" y="886.1" width="22.6" height="62.1" fill="#4D4D4D" stroke="#000" stroke-width="1.6"/>
<line x1="885.48" y1="907.1" x2="908.08" y2="907.1" stroke="#000" stroke-width="1.5"/>
<circle cx="896.78" cy="1043" r="2.1" fill="#000"/>
<circle cx="896.78" cy="1046" r="2.1" fill="#000"/>
<circle cx="896.78" cy="1049" r="2.1" fill="#000"/>
<circle cx="896.78" cy="1052" r="2.1" fill="#000"/>
<circle cx="896.78" cy="1055" r="2.1" fill="#000"/>
<circle cx="896.78" cy="1058" r="2.1" fill="#000"/>
<circle cx="896.78" cy="1061" r="2.1" fill="#000"/>
<circle cx="896.78" cy="1063.9" r="2.1" fill="#000"/>
<line x1="926.12" y1="911.4" x2="926.12" y2="956.4" stroke="#000" stroke-width="1.4"/>
<line x1="926.12" y1="1004.3" x2="926.12" y2="1032.9" stroke="#000" stroke-width="1.4"/>
<line x1="921.72" y1="911.4" x2="930.52" y2="911.4" stroke="#000" stroke-width="1.5"/>
<line x1="921.72" y1="1032.9" x2="930.52" y2="1032.9" stroke="#000" stroke-width="1.5"/>
<rect x="914.82" y="956.4" width="22.6" height="47.9" fill="#A9D4E9" stroke="#000" stroke-width="1.6"/>
<line x1="914.82" y1="980.7" x2="937.42" y2="980.7" stroke="#000" stroke-width="1.5"/>
<line x1="955.46" y1="949.3" x2="955.46" y2="957.9" stroke="#000" stroke-width="1.4"/>
<line x1="955.46" y1="976.4" x2="955.46" y2="981.4" stroke="#000" stroke-width="1.4"/>
<line x1="951.06" y1="949.3" x2="959.86" y2="949.3" stroke="#000" stroke-width="1.5"/>
<line x1="951.06" y1="981.4" x2="959.86" y2="981.4" stroke="#000" stroke-width="1.5"/>
<rect x="944.16" y="957.9" width="22.6" height="18.5" fill="#96D5BE" stroke="#000" stroke-width="1.6"/>
<line x1="944.16" y1="966.1" x2="966.76" y2="966.1" stroke="#000" stroke-width="1.5"/>
<line x1="984.8" y1="983.9" x2="984.8" y2="991.8" stroke="#000" stroke-width="1.4"/>
<line x1="984.8" y1="1004.3" x2="984.8" y2="1010.7" stroke="#000" stroke-width="1.4"/>
<line x1="980.4" y1="983.9" x2="989.2" y2="983.9" stroke="#000" stroke-width="1.5"/>
<line x1="980.4" y1="1010.7" x2="989.2" y2="1010.7" stroke="#000" stroke-width="1.5"/>
<rect x="973.5" y="991.8" width="22.6" height="12.5" fill="#6CC3DF" stroke="#000" stroke-width="1.6"/>
<line x1="973.5" y1="995.4" x2="996.1" y2="995.4" stroke="#000" stroke-width="1.5"/>
<line x1="1043.48" y1="965" x2="1043.48" y2="976.4" stroke="#000" stroke-width="1.4"/>
<line x1="1043.48" y1="986.1" x2="1043.48" y2="988.6" stroke="#000" stroke-width="1.4"/>
<line x1="1039.08" y1="965" x2="1047.88" y2="965" stroke="#000" stroke-width="1.5"/>
<line x1="1039.08" y1="988.6" x2="1047.88" y2="988.6" stroke="#000" stroke-width="1.5"/>
<rect x="1032.18" y="976.4" width="22.6" height="9.7" fill="#24A7E3" stroke="#000" stroke-width="1.6"/>
<line x1="1032.18" y1="981.8" x2="1054.78" y2="981.8" stroke="#000" stroke-width="1.5"/>
<circle cx="1043.48" cy="962.1" r="2.1" fill="#000"/>
<line x1="1072.82" y1="894.6" x2="1072.82" y2="921.1" stroke="#000" stroke-width="1.4"/>
<line x1="1072.82" y1="948.6" x2="1072.82" y2="957.9" stroke="#000" stroke-width="1.4"/>
<line x1="1068.42" y1="894.6" x2="1077.22" y2="894.6" stroke="#000" stroke-width="1.5"/>
<line x1="1068.42" y1="957.9" x2="1077.22" y2="957.9" stroke="#000" stroke-width="1.5"/>
<rect x="1061.52" y="921.1" width="22.6" height="27.5" fill="#8B7657" stroke="#000" stroke-width="1.6"/>
<line x1="1061.52" y1="934.6" x2="1084.12" y2="934.6" stroke="#000" stroke-width="1.5"/>
<line x1="1102.16" y1="870" x2="1102.16" y2="880.4" stroke="#000" stroke-width="1.4"/>
<line x1="1102.16" y1="941.1" x2="1102.16" y2="1031.8" stroke="#000" stroke-width="1.4"/>
<line x1="1097.76" y1="870" x2="1106.56" y2="870" stroke="#000" stroke-width="1.5"/>
<line x1="1097.76" y1="1031.8" x2="1106.56" y2="1031.8" stroke="#000" stroke-width="1.5"/>
<rect x="1090.86" y="880.4" width="22.6" height="60.7" fill="#8A5A2B" stroke="#000" stroke-width="1.6"/>
<line x1="1090.86" y1="897.9" x2="1113.46" y2="897.9" stroke="#000" stroke-width="1.5"/>
<circle cx="1102.16" cy="1032.9" r="2.1" fill="#000"/>
<rect x="673.6" y="845" width="446.4" height="352.9" fill="none" stroke="#000" stroke-width="1.75"/>
<line x1="691.4" y1="1197.9" x2="691.4" y2="1205.4" stroke="#000" stroke-width="1.7"/>
<line x1="720.74" y1="1197.9" x2="720.74" y2="1205.4" stroke="#000" stroke-width="1.7"/>
<line x1="750.08" y1="1197.9" x2="750.08" y2="1205.4" stroke="#000" stroke-width="1.7"/>
<line x1="779.42" y1="1197.9" x2="779.42" y2="1205.4" stroke="#000" stroke-width="1.7"/>
<line x1="808.76" y1="1197.9" x2="808.76" y2="1205.4" stroke="#000" stroke-width="1.7"/>
<line x1="838.1" y1="1197.9" x2="838.1" y2="1205.4" stroke="#000" stroke-width="1.7"/>
<line x1="867.44" y1="1197.9" x2="867.44" y2="1205.4" stroke="#000" stroke-width="1.7"/>
<line x1="896.78" y1="1197.9" x2="896.78" y2="1205.4" stroke="#000" stroke-width="1.7"/>
<line x1="926.12" y1="1197.9" x2="926.12" y2="1205.4" stroke="#000" stroke-width="1.7"/>
<line x1="955.46" y1="1197.9" x2="955.46" y2="1205.4" stroke="#000" stroke-width="1.7"/>
<line x1="984.8" y1="1197.9" x2="984.8" y2="1205.4" stroke="#000" stroke-width="1.7"/>
<line x1="1014.14" y1="1197.9" x2="1014.14" y2="1205.4" stroke="#000" stroke-width="1.7"/>
<line x1="1043.48" y1="1197.9" x2="1043.48" y2="1205.4" stroke="#000" stroke-width="1.7"/>
<line x1="1072.82" y1="1197.9" x2="1072.82" y2="1205.4" stroke="#000" stroke-width="1.7"/>
<line x1="1102.16" y1="1197.9" x2="1102.16" y2="1205.4" stroke="#000" stroke-width="1.7"/>
<line x1="671.1" y1="860.4" x2="673.6" y2="860.4" stroke="#000" stroke-width="1.6"/>
<text transform="translate(632.96,867.9) scale(0.9300,1)" font-size="22" fill="#000">1.0</text>
<line x1="671.1" y1="959.2" x2="673.6" y2="959.2" stroke="#000" stroke-width="1.6"/>
<text transform="translate(633.05,966.7) scale(0.9300,1)" font-size="22" fill="#000">0.8</text>
<line x1="671.1" y1="1058" x2="673.6" y2="1058" stroke="#000" stroke-width="1.6"/>
<text transform="translate(633.06,1065.5) scale(0.9300,1)" font-size="22" fill="#000">0.6</text>
<line x1="671.1" y1="1156.8" x2="673.6" y2="1156.8" stroke="#000" stroke-width="1.6"/>
<text transform="translate(632.76,1164.3) scale(0.9300,1)" font-size="22" fill="#000">0.4</text>
<text transform="translate(615,1093.06) rotate(-90) scale(1.0207,1)" font-size="30.6" fill="#000">Probability</text>
<text transform="translate(796.75,1240.9) scale(1.0951,1)" font-size="27.8" fill="#000">Compartments</text>
<line x1="1239.6" y1="1025" x2="1239.6" y2="1047.1" stroke="#000" stroke-width="1.4"/>
<line x1="1239.6" y1="1064.6" x2="1239.6" y2="1071.8" stroke="#000" stroke-width="1.4"/>
<line x1="1235.2" y1="1025" x2="1244" y2="1025" stroke="#000" stroke-width="1.5"/>
<line x1="1235.2" y1="1071.8" x2="1244" y2="1071.8" stroke="#000" stroke-width="1.5"/>
<rect x="1228.3" y="1047.1" width="22.6" height="17.5" fill="#F9D40B" stroke="#000" stroke-width="1.6"/>
<line x1="1228.3" y1="1057.1" x2="1250.9" y2="1057.1" stroke="#000" stroke-width="1.5"/>
<circle cx="1239.6" cy="997.9" r="2.1" fill="#000"/>
<circle cx="1239.6" cy="1001.5" r="2.1" fill="#000"/>
<circle cx="1239.6" cy="1008" r="2.1" fill="#000"/>
<circle cx="1239.6" cy="1012" r="2.1" fill="#000"/>
<circle cx="1239.6" cy="1015.7" r="2.1" fill="#000"/>
<line x1="1268.94" y1="980.7" x2="1268.94" y2="989.6" stroke="#000" stroke-width="1.4"/>
<line x1="1268.94" y1="996.8" x2="1268.94" y2="998.9" stroke="#000" stroke-width="1.4"/>
<line x1="1264.54" y1="980.7" x2="1273.34" y2="980.7" stroke="#000" stroke-width="1.5"/>
<line x1="1264.54" y1="998.9" x2="1273.34" y2="998.9" stroke="#000" stroke-width="1.5"/>
<rect x="1257.64" y="989.6" width="22.6" height="7.2" fill="#F59E1E" stroke="#000" stroke-width="1.6"/>
<line x1="1257.64" y1="993.2" x2="1280.24" y2="993.2" stroke="#000" stroke-width="1.5"/>
<circle cx="1268.94" cy="965" r="2.1" fill="#000"/>
<circle cx="1268.94" cy="974.6" r="2.1" fill="#000"/>
<circle cx="1268.94" cy="976.5" r="2.1" fill="#000"/>
<circle cx="1268.94" cy="978.3" r="2.1" fill="#000"/>
<line x1="1298.28" y1="932.9" x2="1298.28" y2="953.2" stroke="#000" stroke-width="1.4"/>
<line x1="1298.28" y1="981.1" x2="1298.28" y2="998.9" stroke="#000" stroke-width="1.4"/>
<line x1="1293.88" y1="932.9" x2="1302.68" y2="932.9" stroke="#000" stroke-width="1.5"/>
<line x1="1293.88" y1="998.9" x2="1302.68" y2="998.9" stroke="#000" stroke-width="1.5"/>
<rect x="1286.98" y="953.2" width="22.6" height="27.9" fill="#F37A6C" stroke="#000" stroke-width="1.6"/>
<line x1="1286.98" y1="968.6" x2="1309.58" y2="968.6" stroke="#000" stroke-width="1.5"/>
<line x1="1356.96" y1="867.5" x2="1356.96" y2="890.7" stroke="#000" stroke-width="1.4"/>
<line x1="1356.96" y1="970" x2="1356.96" y2="1087.4" stroke="#000" stroke-width="1.4"/>
<line x1="1352.56" y1="867.5" x2="1361.36" y2="867.5" stroke="#000" stroke-width="1.5"/>
<line x1="1352.56" y1="1087.4" x2="1361.36" y2="1087.4" stroke="#000" stroke-width="1.5"/>
<rect x="1345.66" y="890.7" width="22.6" height="79.3" fill="#E4E4E4" stroke="#000" stroke-width="1.6"/>
<line x1="1345.66" y1="916.4" x2="1368.26" y2="916.4" stroke="#000" stroke-width="1.5"/>
<circle cx="1356.96" cy="1089.6" r="2.1" fill="#000"/>
<circle cx="1356.96" cy="1100.6" r="2.1" fill="#000"/>
<circle cx="1356.96" cy="1103.5" r="2.1" fill="#000"/>
<circle cx="1356.96" cy="1106.5" r="2.1" fill="#000"/>
<circle cx="1356.96" cy="1109.5" r="2.1" fill="#000"/>
<circle cx="1356.96" cy="1112.6" r="2.1" fill="#000"/>
<line x1="1386.3" y1="885.4" x2="1386.3" y2="891.1" stroke="#000" stroke-width="1.4"/>
<line x1="1386.3" y1="898.9" x2="1386.3" y2="902.5" stroke="#000" stroke-width="1.4"/>
<line x1="1381.9" y1="885.4" x2="1390.7" y2="885.4" stroke="#000" stroke-width="1.5"/>
<line x1="1381.9" y1="902.5" x2="1390.7" y2="902.5" stroke="#000" stroke-width="1.5"/>
<rect x="1375" y="891.1" width="22.6" height="7.8" fill="#B1B1B1" stroke="#000" stroke-width="1.6"/>
<line x1="1375" y1="894.6" x2="1397.6" y2="894.6" stroke="#000" stroke-width="1.5"/>
<line x1="1415.64" y1="914.6" x2="1415.64" y2="936.4" stroke="#000" stroke-width="1.4"/>
<line x1="1415.64" y1="966.8" x2="1415.64" y2="996.8" stroke="#000" stroke-width="1.4"/>
<line x1="1411.24" y1="914.6" x2="1420.04" y2="914.6" stroke="#000" stroke-width="1.5"/>
<line x1="1411.24" y1="996.8" x2="1420.04" y2="996.8" stroke="#000" stroke-width="1.5"/>
<rect x="1404.34" y="936.4" width="22.6" height="30.4" fill="#7F7F7F" stroke="#000" stroke-width="1.6"/>
<line x1="1404.34" y1="950.7" x2="1426.94" y2="950.7" stroke="#000" stroke-width="1.5"/>
<line x1="1444.98" y1="872.1" x2="1444.98" y2="891.4" stroke="#000" stroke-width="1.4"/>
<line x1="1444.98" y1="975" x2="1444.98" y2="1090.7" stroke="#000" stroke-width="1.4"/>
<line x1="1440.58" y1="872.1" x2="1449.38" y2="872.1" stroke="#000" stroke-width="1.5"/>
<line x1="1440.58" y1="1090.7" x2="1449.38" y2="1090.7" stroke="#000" stroke-width="1.5"/>
<rect x="1433.68" y="891.4" width="22.6" height="83.6" fill="#4D4D4D" stroke="#000" stroke-width="1.6"/>
<line x1="1433.68" y1="916.4" x2="1456.28" y2="916.4" stroke="#000" stroke-width="1.5"/>
<line x1="1474.32" y1="920.4" x2="1474.32" y2="985.7" stroke="#000" stroke-width="1.4"/>
<line x1="1474.32" y1="1032.1" x2="1474.32" y2="1053.2" stroke="#000" stroke-width="1.4"/>
<line x1="1469.92" y1="920.4" x2="1478.72" y2="920.4" stroke="#000" stroke-width="1.5"/>
<line x1="1469.92" y1="1053.2" x2="1478.72" y2="1053.2" stroke="#000" stroke-width="1.5"/>
<rect x="1463.02" y="985.7" width="22.6" height="46.4" fill="#A9D4E9" stroke="#000" stroke-width="1.6"/>
<line x1="1463.02" y1="1010.4" x2="1485.62" y2="1010.4" stroke="#000" stroke-width="1.5"/>
<circle cx="1474.32" cy="909.3" r="2.1" fill="#000"/>
<line x1="1503.66" y1="951.4" x2="1503.66" y2="1003.2" stroke="#000" stroke-width="1.4"/>
<line x1="1503.66" y1="1045.4" x2="1503.66" y2="1061.1" stroke="#000" stroke-width="1.4"/>
<line x1="1499.26" y1="951.4" x2="1508.06" y2="951.4" stroke="#000" stroke-width="1.5"/>
<line x1="1499.26" y1="1061.1" x2="1508.06" y2="1061.1" stroke="#000" stroke-width="1.5"/>
<rect x="1492.36" y="1003.2" width="22.6" height="42.2" fill="#96D5BE" stroke="#000" stroke-width="1.6"/>
<line x1="1492.36" y1="1028.6" x2="1514.96" y2="1028.6" stroke="#000" stroke-width="1.5"/>
<line x1="1562.34" y1="966.8" x2="1562.34" y2="984.6" stroke="#000" stroke-width="1.4"/>
<line x1="1562.34" y1="1001.4" x2="1562.34" y2="1003.9" stroke="#000" stroke-width="1.4"/>
<line x1="1557.94" y1="966.8" x2="1566.74" y2="966.8" stroke="#000" stroke-width="1.5"/>
<line x1="1557.94" y1="1003.9" x2="1566.74" y2="1003.9" stroke="#000" stroke-width="1.5"/>
<rect x="1551.04" y="984.6" width="22.6" height="16.8" fill="#24A7E3" stroke="#000" stroke-width="1.6"/>
<line x1="1551.04" y1="991.4" x2="1573.64" y2="991.4" stroke="#000" stroke-width="1.5"/>
<line x1="1591.68" y1="974.3" x2="1591.68" y2="982.9" stroke="#000" stroke-width="1.4"/>
<line x1="1591.68" y1="990.7" x2="1591.68" y2="993.6" stroke="#000" stroke-width="1.4"/>
<line x1="1587.28" y1="974.3" x2="1596.08" y2="974.3" stroke="#000" stroke-width="1.5"/>
<line x1="1587.28" y1="993.6" x2="1596.08" y2="993.6" stroke="#000" stroke-width="1.5"/>
<rect x="1580.38" y="982.9" width="22.6" height="7.8" fill="#22B9C6" stroke="#000" stroke-width="1.6"/>
<line x1="1580.38" y1="986.1" x2="1602.98" y2="986.1" stroke="#000" stroke-width="1.5"/>
<circle cx="1591.68" cy="971.1" r="2.1" fill="#000"/>
<line x1="1621.02" y1="915.7" x2="1621.02" y2="960" stroke="#000" stroke-width="1.4"/>
<line x1="1621.02" y1="1022.9" x2="1621.02" y2="1057.9" stroke="#000" stroke-width="1.4"/>
<line x1="1616.62" y1="915.7" x2="1625.42" y2="915.7" stroke="#000" stroke-width="1.5"/>
<line x1="1616.62" y1="1057.9" x2="1625.42" y2="1057.9" stroke="#000" stroke-width="1.5"/>
<rect x="1609.72" y="960" width="22.6" height="62.9" fill="#8B7657" stroke="#000" stroke-width="1.6"/>
<line x1="1609.72" y1="996.4" x2="1632.32" y2="996.4" stroke="#000" stroke-width="1.5"/>
<line x1="1650.36" y1="869.3" x2="1650.36" y2="880.7" stroke="#000" stroke-width="1.4"/>
<line x1="1650.36" y1="962.9" x2="1650.36" y2="1083.6" stroke="#000" stroke-width="1.4"/>
<line x1="1645.96" y1="869.3" x2="1654.76" y2="869.3" stroke="#000" stroke-width="1.5"/>
<line x1="1645.96" y1="1083.6" x2="1654.76" y2="1083.6" stroke="#000" stroke-width="1.5"/>
<rect x="1639.06" y="880.7" width="22.6" height="82.2" fill="#8A5A2B" stroke="#000" stroke-width="1.6"/>
<line x1="1639.06" y1="901.4" x2="1661.66" y2="901.4" stroke="#000" stroke-width="1.5"/>
<circle cx="1650.36" cy="1086.6" r="2.1" fill="#000"/>
<circle cx="1650.36" cy="1090.1" r="2.1" fill="#000"/>
<circle cx="1650.36" cy="1094.5" r="2.1" fill="#000"/>
<circle cx="1650.36" cy="1099.6" r="2.1" fill="#000"/>
<circle cx="1650.36" cy="1104.1" r="2.1" fill="#000"/>
<circle cx="1650.36" cy="1107.6" r="2.1" fill="#000"/>
<circle cx="1650.36" cy="1110.8" r="2.1" fill="#000"/>
<circle cx="1650.36" cy="1119.7" r="2.1" fill="#000"/>
<circle cx="1650.36" cy="1122.2" r="2.1" fill="#000"/>
<circle cx="1650.36" cy="1124.7" r="2.1" fill="#000"/>
<circle cx="1650.36" cy="1127.2" r="2.1" fill="#000"/>
<circle cx="1650.36" cy="1129.9" r="2.1" fill="#000"/>
<circle cx="1650.36" cy="1137.9" r="2.1" fill="#000"/>
<rect x="1222.1" y="845" width="446.5" height="352.9" fill="none" stroke="#000" stroke-width="1.75"/>
<line x1="1239.6" y1="1197.9" x2="1239.6" y2="1205.4" stroke="#000" stroke-width="1.7"/>
<line x1="1268.94" y1="1197.9" x2="1268.94" y2="1205.4" stroke="#000" stroke-width="1.7"/>
<line x1="1298.28" y1="1197.9" x2="1298.28" y2="1205.4" stroke="#000" stroke-width="1.7"/>
<line x1="1327.62" y1="1197.9" x2="1327.62" y2="1205.4" stroke="#000" stroke-width="1.7"/>
<line x1="1356.96" y1="1197.9" x2="1356.96" y2="1205.4" stroke="#000" stroke-width="1.7"/>
<line x1="1386.3" y1="1197.9" x2="1386.3" y2="1205.4" stroke="#000" stroke-width="1.7"/>
<line x1="1415.64" y1="1197.9" x2="1415.64" y2="1205.4" stroke="#000" stroke-width="1.7"/>
<line x1="1444.98" y1="1197.9" x2="1444.98" y2="1205.4" stroke="#000" stroke-width="1.7"/>
<line x1="1474.32" y1="1197.9" x2="1474.32" y2="1205.4" stroke="#000" stroke-width="1.7"/>
<line x1="1503.66" y1="1197.9" x2="1503.66" y2="1205.4" stroke="#000" stroke-width="1.7"/>
<line x1="1533" y1="1197.9" x2="1533" y2="1205.4" stroke="#000" stroke-width="1.7"/>
<line x1="1562.34" y1="1197.9" x2="1562.34" y2="1205.4" stroke="#000" stroke-width="1.7"/>
<line x1="1591.68" y1="1197.9" x2="1591.68" y2="1205.4" stroke="#000" stroke-width="1.7"/>
<line x1="1621.02" y1="1197.9" x2="1621.02" y2="1205.4" stroke="#000" stroke-width="1.7"/>
<line x1="1650.36" y1="1197.9" x2="1650.36" y2="1205.4" stroke="#000" stroke-width="1.7"/>
<line x1="1219.6" y1="860.4" x2="1222.1" y2="860.4" stroke="#000" stroke-width="1.6"/>
<text transform="translate(1181.46,867.9) scale(0.9300,1)" font-size="22" fill="#000">1.0</text>
<line x1="1219.6" y1="967.5" x2="1222.1" y2="967.5" stroke="#000" stroke-width="1.6"/>
<text transform="translate(1181.55,975) scale(0.9300,1)" font-size="22" fill="#000">0.8</text>
<line x1="1219.6" y1="1074.6" x2="1222.1" y2="1074.6" stroke="#000" stroke-width="1.6"/>
<text transform="translate(1181.56,1082.1) scale(0.9300,1)" font-size="22" fill="#000">0.6</text>
<line x1="1219.6" y1="1181.7" x2="1222.1" y2="1181.7" stroke="#000" stroke-width="1.6"/>
<text transform="translate(1181.26,1189.2) scale(0.9300,1)" font-size="22" fill="#000">0.4</text>
<text transform="translate(1165,1093.06) rotate(-90) scale(1.0207,1)" font-size="30.6" fill="#000">Probability</text>
<text transform="translate(1345.3,1240.9) scale(1.0951,1)" font-size="27.8" fill="#000">Compartments</text>
<text transform="translate(1634.62,832.1) scale(1.0518,1)" font-size="25.8" fill="#000">Compartments</text>
<rect x="1690.8" y="849.8" width="25.2" height="20.5" fill="#F9D40B" stroke="#000" stroke-width="1.6"/>
<text transform="translate(1726.04,869.7) scale(0.8600,1)" font-size="22" fill="#000">S1</text>
<rect x="1690.8" y="873.3" width="25.2" height="20.5" fill="#F59E1E" stroke="#000" stroke-width="1.6"/>
<text transform="translate(1726.04,893.2) scale(0.8600,1)" font-size="22" fill="#000">S2</text>
<rect x="1690.8" y="896.8" width="25.2" height="20.5" fill="#F37A6C" stroke="#000" stroke-width="1.6"/>
<text transform="translate(1726.04,916.7) scale(0.8600,1)" font-size="22" fill="#000">S3</text>
<rect x="1690.8" y="920.3" width="25.2" height="20.5" fill="#EB5739" stroke="#000" stroke-width="1.6"/>
<text transform="translate(1726.04,940.2) scale(0.8600,1)" font-size="22" fill="#000">S4</text>
<rect x="1690.8" y="943.8" width="25.2" height="20.5" fill="#E4E4E4" stroke="#000" stroke-width="1.6"/>
<text transform="translate(1725.35,963.7) scale(0.8600,1)" font-size="22" fill="#000">N1</text>
<rect x="1690.8" y="967.3" width="25.2" height="20.5" fill="#B1B1B1" stroke="#000" stroke-width="1.6"/>
<text transform="translate(1725.35,987.2) scale(0.8600,1)" font-size="22" fill="#000">N2</text>
<rect x="1690.8" y="990.8" width="25.2" height="20.5" fill="#7F7F7F" stroke="#000" stroke-width="1.6"/>
<text transform="translate(1725.35,1010.7) scale(0.8600,1)" font-size="22" fill="#000">N3</text>
<rect x="1690.8" y="1014.3" width="25.2" height="20.5" fill="#4D4D4D" stroke="#000" stroke-width="1.6"/>
<text transform="translate(1725.35,1034.2) scale(0.8600,1)" font-size="22" fill="#000">N4</text>
<rect x="1690.8" y="1037.8" width="25.2" height="20.5" fill="#A9D4E9" stroke="#000" stroke-width="1.6"/>
<text transform="translate(1725.94,1057.7) scale(0.8600,1)" font-size="22" fill="#000">C1</text>
<rect x="1690.8" y="1061.3" width="25.2" height="20.5" fill="#96D5BE" stroke="#000" stroke-width="1.6"/>
<text transform="translate(1725.94,1081.2) scale(0.8600,1)" font-size="22" fill="#000">C2</text>
<rect x="1690.8" y="1084.8" width="25.2" height="20.5" fill="#6CC3DF" stroke="#000" stroke-width="1.6"/>
<text transform="translate(1725.94,1104.7) scale(0.8600,1)" font-size="22" fill="#000">C3</text>
<rect x="1690.8" y="1108.3" width="25.2" height="20.5" fill="#24A7E3" stroke="#000" stroke-width="1.6"/>
<text transform="translate(1725.94,1128.2) scale(0.8600,1)" font-size="22" fill="#000">C4</text>
<rect x="1690.8" y="1131.8" width="25.2" height="20.5" fill="#22B9C6" stroke="#000" stroke-width="1.6"/>
<text transform="translate(1725.94,1151.7) scale(0.8600,1)" font-size="22" fill="#000">C5</text>
<rect x="1690.8" y="1155.3" width="25.2" height="20.5" fill="#8B7657" stroke="#000" stroke-width="1.6"/>
<text transform="translate(1725.35,1175.2) scale(0.8600,1)" font-size="22" fill="#000">M1</text>
<rect x="1690.8" y="1178.8" width="25.2" height="20.5" fill="#8A5A2B" stroke="#000" stroke-width="1.6"/>
<text transform="translate(1725.35,1198.7) scale(0.8600,1)" font-size="22" fill="#000">M2</text>
<text transform="translate(34.79,1390.3) scale(1.0544,1)" font-size="38.3" fill="#000">Distribution of #PSMs for quantification based on</text>
<text transform="translate(90.38,1435.5) scale(1.0542,1)" font-size="38.3" fill="#000">classification agreement between methods</text>
<line x1="262" y1="1629.9" x2="262" y2="1758.8" stroke="#000" stroke-width="1.6"/>
<line x1="262" y1="1851.5" x2="262" y2="1851.5" stroke="#000" stroke-width="1.6"/>
<line x1="247.25" y1="1629.9" x2="276.75" y2="1629.9" stroke="#000" stroke-width="1.7"/>
<rect x="220.35" y="1758.8" width="83.3" height="92.7" fill="#FE6B6E" stroke="#000" stroke-width="1.8"/>
<line x1="220.35" y1="1798.8" x2="303.65" y2="1798.8" stroke="#000" stroke-width="1.8"/>
<circle cx="262" cy="1603" r="2.3" fill="#000"/>
<circle cx="262" cy="1607.9" r="2.3" fill="#000"/>
<circle cx="262" cy="1611.4" r="2.3" fill="#000"/>
<line x1="354.2" y1="1573.2" x2="354.2" y2="1688.3" stroke="#000" stroke-width="1.6"/>
<line x1="354.2" y1="1765.9" x2="354.2" y2="1850.8" stroke="#000" stroke-width="1.6"/>
<line x1="339.45" y1="1573.2" x2="368.95" y2="1573.2" stroke="#000" stroke-width="1.7"/>
<line x1="339.45" y1="1850.8" x2="368.95" y2="1850.8" stroke="#000" stroke-width="1.7"/>
<rect x="312.55" y="1688.3" width="83.3" height="77.6" fill="#63C571" stroke="#000" stroke-width="1.8"/>
<line x1="312.55" y1="1725.9" x2="395.85" y2="1725.9" stroke="#000" stroke-width="1.8"/>
<circle cx="354.2" cy="1508.2" r="2.3" fill="#000"/>
<circle cx="354.2" cy="1517.4" r="2.3" fill="#000"/>
<circle cx="354.2" cy="1533.5" r="2.3" fill="#000"/>
<circle cx="354.2" cy="1535.5" r="2.3" fill="#000"/>
<circle cx="354.2" cy="1537.5" r="2.3" fill="#000"/>
<circle cx="354.2" cy="1539.5" r="2.3" fill="#000"/>
<circle cx="354.2" cy="1541.5" r="2.3" fill="#000"/>
<circle cx="354.2" cy="1543.5" r="2.3" fill="#000"/>
<circle cx="354.2" cy="1545.5" r="2.3" fill="#000"/>
<circle cx="354.2" cy="1547.5" r="2.3" fill="#000"/>
<circle cx="354.2" cy="1549.5" r="2.3" fill="#000"/>
<circle cx="354.2" cy="1551.5" r="2.3" fill="#000"/>
<circle cx="354.2" cy="1553.5" r="2.3" fill="#000"/>
<circle cx="354.2" cy="1555.5" r="2.3" fill="#000"/>
<circle cx="354.2" cy="1557.5" r="2.3" fill="#000"/>
<circle cx="354.2" cy="1559.5" r="2.3" fill="#000"/>
<circle cx="354.2" cy="1561.5" r="2.3" fill="#000"/>
<circle cx="354.2" cy="1563.5" r="2.3" fill="#000"/>
<circle cx="354.2" cy="1565.5" r="2.3" fill="#000"/>
<circle cx="354.2" cy="1567.5" r="2.3" fill="#000"/>
<circle cx="354.2" cy="1569.5" r="2.3" fill="#000"/>
<circle cx="354.2" cy="1571.5" r="2.3" fill="#000"/>
<line x1="507.9" y1="1726.9" x2="507.9" y2="1799.4" stroke="#000" stroke-width="1.6"/>
<line x1="507.9" y1="1851.7" x2="507.9" y2="1851.7" stroke="#000" stroke-width="1.6"/>
<line x1="493.15" y1="1726.9" x2="522.65" y2="1726.9" stroke="#000" stroke-width="1.7"/>
<rect x="466.25" y="1799.4" width="83.3" height="52.3" fill="#FE6B6E" stroke="#000" stroke-width="1.8"/>
<line x1="466.25" y1="1851.7" x2="549.55" y2="1851.7" stroke="#000" stroke-width="1.8"/>
<circle cx="507.9" cy="1673.3" r="2.3" fill="#000"/>
<circle cx="507.9" cy="1686.9" r="2.3" fill="#000"/>
<circle cx="507.9" cy="1700.3" r="2.3" fill="#000"/>
<circle cx="507.9" cy="1704.5" r="2.3" fill="#000"/>
<circle cx="507.9" cy="1708.6" r="2.3" fill="#000"/>
<circle cx="507.9" cy="1713.9" r="2.3" fill="#000"/>
<circle cx="507.9" cy="1720" r="2.3" fill="#000"/>
<line x1="600" y1="1619.8" x2="600" y2="1737.5" stroke="#000" stroke-width="1.6"/>
<line x1="600" y1="1817.9" x2="600" y2="1851.8" stroke="#000" stroke-width="1.6"/>
<line x1="585.25" y1="1619.8" x2="614.75" y2="1619.8" stroke="#000" stroke-width="1.7"/>
<line x1="585.25" y1="1851.8" x2="614.75" y2="1851.8" stroke="#000" stroke-width="1.7"/>
<rect x="558.35" y="1737.5" width="83.3" height="80.4" fill="#63C571" stroke="#000" stroke-width="1.8"/>
<line x1="558.35" y1="1766.1" x2="641.65" y2="1766.1" stroke="#000" stroke-width="1.8"/>
<circle cx="600" cy="1593.4" r="2.3" fill="#000"/>
<circle cx="600" cy="1606.1" r="2.3" fill="#000"/>
<circle cx="600" cy="1615.5" r="2.3" fill="#000"/>
<rect x="160.5" y="1483" width="541" height="376.6" fill="none" stroke="#000" stroke-width="1.9"/>
<line x1="307.9" y1="1859.6" x2="307.9" y2="1862.5" stroke="#000" stroke-width="1.5"/>
<line x1="553.8" y1="1859.6" x2="553.8" y2="1862.5" stroke="#000" stroke-width="1.5"/>
<line x1="158.5" y1="1588.5" x2="160.5" y2="1588.5" stroke="#000" stroke-width="1.4"/>
<line x1="158.5" y1="1593.5" x2="160.5" y2="1593.5" stroke="#000" stroke-width="1.4"/>
<text transform="translate(152.3,1608.45) rotate(-90) scale(0.9500,1)" font-size="22" fill="#000">500</text>
<line x1="158.5" y1="1695" x2="160.5" y2="1695" stroke="#000" stroke-width="1.4"/>
<line x1="158.5" y1="1700" x2="160.5" y2="1700" stroke="#000" stroke-width="1.4"/>
<text transform="translate(152.3,1709.13) rotate(-90) scale(0.9500,1)" font-size="22" fill="#000">50</text>
<line x1="158.5" y1="1777.5" x2="160.5" y2="1777.5" stroke="#000" stroke-width="1.4"/>
<line x1="158.5" y1="1782.5" x2="160.5" y2="1782.5" stroke="#000" stroke-width="1.4"/>
<text transform="translate(152.3,1792.01) rotate(-90) scale(0.9500,1)" font-size="22" fill="#000">10</text>
<text transform="translate(118.9,1750.82) rotate(-90) scale(0.8966,1)" font-size="27.5" fill="#000">Minimum #PSMs</text>
<text transform="translate(220.97,1503.6) scale(1.1698,1)" font-size="19" fill="#000">p-value &lt; 2.2e-16</text>
<text transform="translate(466.16,1503.6) scale(1.1753,1)" font-size="19" fill="#000">p-value &lt; 2.2e-16</text>
<text transform="translate(218.99,1888.4) scale(0.9597,1)" font-size="23" fill="#000">HiRIEF vs High pH</text>
<text transform="translate(232.85,1914) scale(1.0188,1)" font-size="23" fill="#000">(7877 proteins)</text>
<text transform="translate(433.26,1888.4) scale(0.9738,1)" font-size="23" fill="#000">HiRIEF vs Long gradient</text>
<text transform="translate(476.54,1914) scale(1.0208,1)" font-size="23" fill="#000">(3656 proteins)</text>
<text transform="translate(726.35,1497.9) scale(1.0389,1)" font-size="24.9" fill="#000">Agreement</text>
<rect x="724.8" y="1523.4" width="36" height="35.5" fill="#FE6B6E" stroke="#000" stroke-width="1.6"/>
<rect x="724.8" y="1583.9" width="36" height="35.8" fill="#63C571" stroke="#000" stroke-width="1.6"/>
<text transform="translate(766.88,1530.9) scale(1.0865,1)" font-size="21.5" fill="#000">Different</text>
<text transform="translate(767.86,1558.9) scale(1.0340,1)" font-size="21.5" fill="#000">classifications</text>
<text transform="translate(767.84,1594) scale(0.9828,1)" font-size="21.5" fill="#000">Same</text>
<text transform="translate(767.84,1622.8) scale(1.0496,1)" font-size="21.5" fill="#000">classification</text>
<text transform="translate(1057.26,1390) scale(1.0500,1)" font-size="38.3" fill="#000">Classification agreement between</text>
<text transform="translate(944.7,1436.9) scale(1.0492,1)" font-size="38.3" fill="#000">MS-methods in low count PSM quantifications</text>
<text transform="translate(1051.73,1501.3) scale(0.9713,1)" font-size="32.3" fill="#000">HiRIEF vs High pH</text>
<text transform="translate(1376.27,1501.3) scale(0.9931,1)" font-size="32.3" fill="#000">HiRIEF vs Long gradient</text>
<rect x="1055.3" y="1538.38" width="122.3" height="51.11" fill="#FE6B6E"/>
<rect x="1055.3" y="1589.49" width="122.3" height="289.61" fill="#63C571"/>
<text transform="translate(1086.42,1721.4) scale(0.9800,1)" font-size="30.5" fill="#000">85%</text>
<rect x="1189.6" y="1538.38" width="122.2" height="8.52" fill="#FE6B6E"/>
<rect x="1189.6" y="1546.9" width="122.2" height="332.2" fill="#63C571"/>
<text transform="translate(1220.62,1721.4) scale(0.9800,1)" font-size="30.5" fill="#000">97%</text>
<rect x="1423.5" y="1538.38" width="122.4" height="65.42" fill="#FE6B6E"/>
<rect x="1423.5" y="1603.8" width="122.4" height="275.3" fill="#63C571"/>
<text transform="translate(1454.67,1721.4) scale(0.9800,1)" font-size="30.5" fill="#000">80%</text>
<rect x="1558.3" y="1538.38" width="122.3" height="10.22" fill="#FE6B6E"/>
<rect x="1558.3" y="1548.6" width="122.3" height="330.5" fill="#63C571"/>
<text transform="translate(1589.37,1721.4) scale(0.9800,1)" font-size="30.5" fill="#000">96%</text>
<line x1="1036.9" y1="1522.4" x2="1036.9" y2="1880" stroke="#000" stroke-width="1.9"/>
<line x1="1036" y1="1879.1" x2="1689.6" y2="1879.1" stroke="#000" stroke-width="1.9"/>
<line x1="1030.6" y1="1879.1" x2="1036.9" y2="1879.1" stroke="#000" stroke-width="1.7"/>
<text transform="translate(1014.42,1886.1) scale(0.9700,1)" font-size="20.3" fill="#000">0</text>
<line x1="1030.6" y1="1793.92" x2="1036.9" y2="1793.92" stroke="#000" stroke-width="1.7"/>
<text transform="translate(1003.52,1800.92) scale(0.9700,1)" font-size="20.3" fill="#000">25</text>
<line x1="1030.6" y1="1708.74" x2="1036.9" y2="1708.74" stroke="#000" stroke-width="1.7"/>
<text transform="translate(1003.47,1715.74) scale(0.9700,1)" font-size="20.3" fill="#000">50</text>
<line x1="1030.6" y1="1623.56" x2="1036.9" y2="1623.56" stroke="#000" stroke-width="1.7"/>
<text transform="translate(1003.52,1630.56) scale(0.9700,1)" font-size="20.3" fill="#000">75</text>
<line x1="1030.6" y1="1538.38" x2="1036.9" y2="1538.38" stroke="#000" stroke-width="1.7"/>
<text transform="translate(992.52,1545.38) scale(0.9700,1)" font-size="20.3" fill="#000">100</text>
<text transform="translate(975.5,1804.66) rotate(-90) scale(0.9911,1)" font-size="25" fill="#000">Concordance (%)</text>
<text transform="translate(1066.55,1914.4) scale(0.8984,1)" font-size="25.5" fill="#000">1-2 PSMs</text>
<text transform="translate(1202.45,1914.4) scale(0.9178,1)" font-size="25.5" fill="#000">&gt;2 PSMs</text>
<text transform="translate(1434.75,1914.4) scale(0.8984,1)" font-size="25.5" fill="#000">1-2 PSMs</text>
<text transform="translate(1570.65,1914.4) scale(0.9168,1)" font-size="25.5" fill="#000">&gt;2 PSMs</text>
<text transform="translate(151.39,2089.1) scale(1.0547,1)" font-size="38.3" fill="#000">Neighborhood level classifications in HeLa cells in relation to quantitative range</text>
<text transform="translate(170.17,2153.6) scale(0.9923,1)" font-size="36" fill="#D7858F">Long gradient</text>
<text transform="translate(717.47,2149) scale(1.0260,1)" font-size="36" fill="#5E5E5E">High pH</text>
<text transform="translate(1365.86,2150.2) scale(0.8593,1)" font-size="36" fill="#20958A">HiRIEF</text>
<line x1="108.6" y1="2274.6" x2="108.6" y2="2598.1" stroke="#000" stroke-width="1.9"/>
<line x1="104.1" y1="2597.3" x2="108.6" y2="2597.3" stroke="#000" stroke-width="1.8"/>
<text transform="translate(94,2598.14) rotate(-90) scale(0.9500,1)" font-size="22.5" fill="#000">0</text>
<line x1="104.1" y1="2517" x2="108.6" y2="2517" stroke="#000" stroke-width="1.8"/>
<text transform="translate(94,2526.84) rotate(-90) scale(0.9500,1)" font-size="22.5" fill="#000">500</text>
<line x1="104.1" y1="2436.9" x2="108.6" y2="2436.9" stroke="#000" stroke-width="1.8"/>
<text transform="translate(94,2449.57) rotate(-90) scale(0.9500,1)" font-size="22.5" fill="#000">1000</text>
<line x1="104.1" y1="2356.3" x2="108.6" y2="2356.3" stroke="#000" stroke-width="1.8"/>
<text transform="translate(94,2369.97) rotate(-90) scale(0.9500,1)" font-size="22.5" fill="#000">1500</text>
<line x1="104.1" y1="2275.4" x2="108.6" y2="2275.4" stroke="#000" stroke-width="1.8"/>
<text transform="translate(94,2289.9) rotate(-90) scale(0.9500,1)" font-size="22.5" fill="#000">2000</text>
<rect x="120" y="2521.7" width="55.8" height="39.4" fill="#FE6B6E"/>
<rect x="120" y="2561.1" width="55.8" height="36.2" fill="#AFE2FE"/>
<rect x="187" y="2253.6" width="55.8" height="60.9" fill="#FE6B6E"/>
<rect x="187" y="2314.5" width="55.8" height="282.8" fill="#AFE2FE"/>
<rect x="253.5" y="2386.2" width="55.8" height="17.5" fill="#FE6B6E"/>
<rect x="253.5" y="2403.7" width="55.8" height="193.6" fill="#AFE2FE"/>
<rect x="324.3" y="2522.1" width="55.8" height="3.6" fill="#FE6B6E"/>
<rect x="324.3" y="2525.7" width="55.8" height="71.6" fill="#AFE2FE"/>
<rect x="393.9" y="2563.5" width="55.4" height="2.7" fill="#FE6B6E"/>
<rect x="393.9" y="2566.2" width="55.4" height="31.1" fill="#AFE2FE"/>
<text transform="translate(125.61,2511.5) scale(1.0631,1)" font-size="23.3" fill="#000">52%</text>
<text transform="translate(192.6,2245.1) scale(1.0130,1)" font-size="23.3" fill="#000">18%</text>
<text transform="translate(266.93,2377.9) scale(1.0524,1)" font-size="23.3" fill="#000">8%</text>
<text transform="translate(333.74,2511.5) scale(1.0461,1)" font-size="23.3" fill="#000">4%</text>
<text transform="translate(405.03,2553.9) scale(1.0770,1)" font-size="23.3" fill="#000">6%</text>
<text transform="translate(118.59,2623) scale(1.0079,1)" font-size="20.5" fill="#000">0 - 0.5</text>
<text transform="translate(185.52,2623) scale(0.9767,1)" font-size="20.5" fill="#000">0.5 - 1</text>
<text transform="translate(253.08,2623) scale(0.9714,1)" font-size="20.5" fill="#000">1 - 1.5</text>
<text transform="translate(323.14,2623) scale(0.9978,1)" font-size="20.5" fill="#000">1.5 - 2</text>
<text transform="translate(406.92,2623) scale(1.0730,1)" font-size="20.5" fill="#000">&gt; 2</text>
<text transform="translate(52.4,2447.58) rotate(-90) scale(0.9825,1)" font-size="29.5" fill="#000">Proteins</text>
<text transform="translate(150.81,2665.7) scale(0.9708,1)" font-size="30" fill="#000">Binned Quant range</text>
<text transform="translate(179.88,2698.8) scale(0.9758,1)" font-size="30" fill="#000">(max-min, log2)</text>
<text transform="translate(337.57,2228.6) scale(0.9526,1)" font-size="27.5" fill="#000">Classification</text>
<rect x="341" y="2245.5" width="29.7" height="28.2" fill="#FE6B6E"/>
<rect x="341" y="2277.9" width="29.7" height="29.7" fill="#AFE2FE"/>
<text transform="translate(384.59,2266.7) scale(0.9525,1)" font-size="23.3" fill="#000">Unclassified</text>
<text transform="translate(385.2,2299.8) scale(0.9306,1)" font-size="23.3" fill="#000">Classified</text>
<text transform="translate(41.23,2196.4) scale(1.0226,1)" font-size="24" fill="#000">% Unclassified</text>
<line x1="131" y1="2206.4" x2="174" y2="2225" stroke="#000" stroke-width="1.7"/>
<polygon points="182.4,2227.6 166.3,2229.9 170.6,2224.4 172.0,2216.3" fill="#000"/>
<line x1="615.4" y1="2238.4" x2="615.4" y2="2599" stroke="#000" stroke-width="1.9"/>
<line x1="610.9" y1="2598.2" x2="615.4" y2="2598.2" stroke="#000" stroke-width="1.8"/>
<text transform="translate(604,2604.74) rotate(-90) scale(0.9500,1)" font-size="22.5" fill="#000">0</text>
<line x1="610.9" y1="2478.6" x2="615.4" y2="2478.6" stroke="#000" stroke-width="1.8"/>
<text transform="translate(604,2492.67) rotate(-90) scale(0.9500,1)" font-size="22.5" fill="#000">1000</text>
<line x1="610.9" y1="2357.5" x2="615.4" y2="2357.5" stroke="#000" stroke-width="1.8"/>
<text transform="translate(604,2375.2) rotate(-90) scale(0.9500,1)" font-size="22.5" fill="#000">2000</text>
<line x1="610.9" y1="2239.2" x2="615.4" y2="2239.2" stroke="#000" stroke-width="1.8"/>
<text transform="translate(604,2256.47) rotate(-90) scale(0.9500,1)" font-size="22.5" fill="#000">3000</text>
<rect x="625" y="2583.5" width="55.8" height="9.4" fill="#FE6B6E"/>
<rect x="625" y="2592.9" width="55.8" height="5.3" fill="#AFE2FE"/>
<rect x="692" y="2401.8" width="55.1" height="49.4" fill="#FE6B6E"/>
<rect x="692" y="2451.2" width="55.1" height="147" fill="#AFE2FE"/>
<rect x="759.6" y="2237.8" width="55.6" height="30.6" fill="#FE6B6E"/>
<rect x="759.6" y="2268.4" width="55.6" height="329.8" fill="#AFE2FE"/>
<rect x="830.4" y="2282.7" width="55.1" height="11.4" fill="#FE6B6E"/>
<rect x="830.4" y="2294.1" width="55.1" height="304.1" fill="#AFE2FE"/>
<rect x="900.3" y="2330" width="55.1" height="16.3" fill="#FE6B6E"/>
<rect x="900.3" y="2346.3" width="55.1" height="251.9" fill="#AFE2FE"/>
<text transform="translate(628.92,2574.5) scale(1.0802,1)" font-size="23.3" fill="#000">67%</text>
<text transform="translate(694.27,2393.7) scale(1.0508,1)" font-size="23.3" fill="#000">25%</text>
<text transform="translate(768.7,2229.6) scale(1.0901,1)" font-size="23.3" fill="#000">8%</text>
<text transform="translate(839.84,2273.7) scale(1.0492,1)" font-size="23.3" fill="#000">4%</text>
<text transform="translate(909.33,2323.5) scale(1.0707,1)" font-size="23.3" fill="#000">6%</text>
<text transform="translate(624.2,2623) scale(0.9973,1)" font-size="20.5" fill="#000">0 - 0.5</text>
<text transform="translate(691.22,2623) scale(0.9713,1)" font-size="20.5" fill="#000">0.5 - 1</text>
<text transform="translate(758.98,2623) scale(0.9750,1)" font-size="20.5" fill="#000">1 - 1.5</text>
<text transform="translate(828.84,2623) scale(0.9978,1)" font-size="20.5" fill="#000">1.5 - 2</text>
<text transform="translate(911.92,2623) scale(1.0730,1)" font-size="20.5" fill="#000">&gt; 2</text>
<text transform="translate(558.8,2446.26) rotate(-90) scale(0.9749,1)" font-size="29.5" fill="#000">Proteins</text>
<text transform="translate(656.41,2666.3) scale(0.9711,1)" font-size="30" fill="#000">Binned Quant range</text>
<text transform="translate(686.39,2701) scale(0.9729,1)" font-size="30" fill="#000">(max-min, log2)</text>
<text transform="translate(981.07,2227.6) scale(0.9514,1)" font-size="27.5" fill="#000">Classification</text>
<rect x="984.1" y="2245.9" width="29.8" height="27.4" fill="#FE6B6E"/>
<rect x="984.1" y="2278.6" width="29.8" height="28.5" fill="#AFE2FE"/>
<text transform="translate(1027.29,2266.3) scale(0.9525,1)" font-size="23.3" fill="#000">Unclassified</text>
<text transform="translate(1027.9,2299) scale(0.9306,1)" font-size="23.3" fill="#000">Classified</text>
<line x1="1246.3" y1="2198.1" x2="1246.3" y2="2595.9" stroke="#000" stroke-width="1.9"/>
<line x1="1241.8" y1="2595.1" x2="1246.3" y2="2595.1" stroke="#000" stroke-width="1.8"/>
<text transform="translate(1234,2597.94) rotate(-90) scale(0.9500,1)" font-size="22.5" fill="#000">0</text>
<line x1="1241.8" y1="2496" x2="1246.3" y2="2496" stroke="#000" stroke-width="1.8"/>
<text transform="translate(1234,2511.17) rotate(-90) scale(0.9500,1)" font-size="22.5" fill="#000">1000</text>
<line x1="1241.8" y1="2397" x2="1246.3" y2="2397" stroke="#000" stroke-width="1.8"/>
<text transform="translate(1234,2411.9) rotate(-90) scale(0.9500,1)" font-size="22.5" fill="#000">2000</text>
<line x1="1241.8" y1="2298" x2="1246.3" y2="2298" stroke="#000" stroke-width="1.8"/>
<text transform="translate(1234,2311.97) rotate(-90) scale(0.9500,1)" font-size="22.5" fill="#000">3000</text>
<line x1="1241.8" y1="2198.9" x2="1246.3" y2="2198.9" stroke="#000" stroke-width="1.8"/>
<text transform="translate(1234,2218.4) rotate(-90) scale(0.9500,1)" font-size="22.5" fill="#000">4000</text>
<rect x="1260.8" y="2591.8" width="57.2" height="2.1" fill="#FE6B6E"/>
<rect x="1260.8" y="2593.9" width="57.2" height="1.2" fill="#AFE2FE"/>
<rect x="1327" y="2503.3" width="56.5" height="26.1" fill="#FE6B6E"/>
<rect x="1327" y="2529.4" width="56.5" height="65.7" fill="#AFE2FE"/>
<rect x="1392.4" y="2368.2" width="56.9" height="29.8" fill="#FE6B6E"/>
<rect x="1392.4" y="2398" width="56.9" height="197.1" fill="#AFE2FE"/>
<rect x="1462.5" y="2313.1" width="56.5" height="15.5" fill="#FE6B6E"/>
<rect x="1462.5" y="2328.6" width="56.5" height="266.5" fill="#AFE2FE"/>
<rect x="1530.8" y="2208.2" width="56.7" height="21.2" fill="#FE6B6E"/>
<rect x="1530.8" y="2229.4" width="56.7" height="365.7" fill="#AFE2FE"/>
<text transform="translate(1264.12,2583.7) scale(1.0452,1)" font-size="23.3" fill="#000">56%</text>
<text transform="translate(1330.37,2495.9) scale(1.0531,1)" font-size="23.3" fill="#000">29%</text>
<text transform="translate(1395.05,2360.4) scale(1.0402,1)" font-size="23.3" fill="#000">13%</text>
<text transform="translate(1475.23,2305.3) scale(1.0707,1)" font-size="23.3" fill="#000">6%</text>
<text transform="translate(1542.02,2200) scale(1.0498,1)" font-size="23.3" fill="#000">5%</text>
<text transform="translate(1258.11,2623) scale(0.9884,1)" font-size="20.5" fill="#000">0 - 0.5</text>
<text transform="translate(1325.13,2623) scale(0.9589,1)" font-size="20.5" fill="#000">0.5 - 1</text>
<text transform="translate(1392.47,2623) scale(0.9821,1)" font-size="20.5" fill="#000">1 - 1.5</text>
<text transform="translate(1462.75,2623) scale(0.9924,1)" font-size="20.5" fill="#000">1.5 - 2</text>
<text transform="translate(1544.7,2623) scale(1.0878,1)" font-size="20.5" fill="#000">&gt; 2</text>
<text transform="translate(1190.8,2447.24) rotate(-90) scale(0.9663,1)" font-size="29.5" fill="#000">Proteins</text>
<text transform="translate(1288.41,2665.3) scale(0.9715,1)" font-size="30" fill="#000">Binned Quant range</text>
<text transform="translate(1317.59,2700) scale(0.9734,1)" font-size="30" fill="#000">(max-min, log2)</text>
<text transform="translate(1607.89,2227.3) scale(0.9381,1)" font-size="27.5" fill="#000">Classification</text>
<rect x="1610" y="2244.9" width="29.8" height="28.6" fill="#FE6B6E"/>
<rect x="1610" y="2277.6" width="29.8" height="29.7" fill="#AFE2FE"/>
<text transform="translate(1653.19,2265.3) scale(0.9525,1)" font-size="23.3" fill="#000">Unclassified</text>
<text transform="translate(1653.8,2298.8) scale(0.9306,1)" font-size="23.3" fill="#000">Classified</text>
</svg>
</body></html>
